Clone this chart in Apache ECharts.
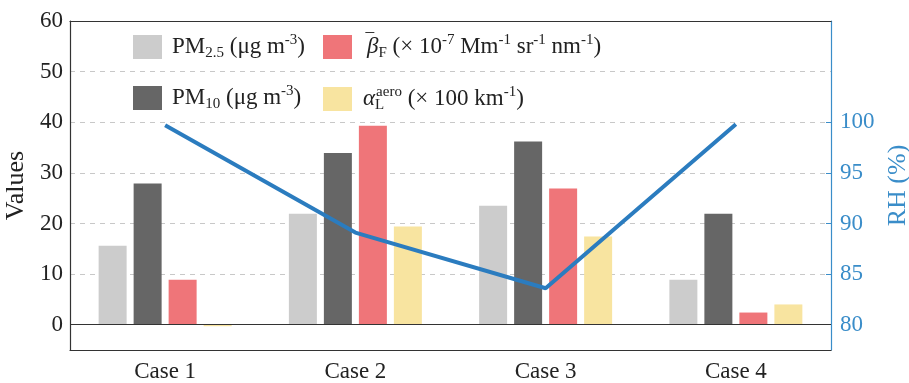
<!DOCTYPE html>
<html><head><meta charset="utf-8">
<script src="https://cdn.jsdelivr.net/npm/echarts@6/dist/echarts.min.js"></script>
<style>html,body{margin:0;padding:0;background:#fff}#c{width:909px;height:383px}</style>
</head><body><div id="c"></div>
<script>
const categories = ['Case 1', 'Case 2', 'Case 3', 'Case 4'];
const pm25 = [15.6, 21.9, 23.5, 8.9];
const pm10 = [27.9, 33.9, 36.2, 21.9];
const betaF = [8.9, 39.3, 26.9, 2.4];
const alphaL = [-0.3, 19.4, 17.4, 4.0];
const rh = [99.7, 89.1, 83.6, 99.8];
const leftTicks = [0, 10, 20, 30, 40, 50, 60];
const rightTicks = [80, 85, 90, 95, 100];

const FONT = 'Liberation Serif';
const BLUE = '#2b7cbf';
const AXBLUE = '#3a8dc9';
const DARK = '#333333';

const LH = 28;
const rich = {
  g: {width: 5},
  g2: {width: 6},
  t: {fontFamily: FONT, fontSize: 23, color: '#222', lineHeight: LH},
  sub: {fontFamily: FONT, fontSize: 15, color: '#222', verticalAlign: 'bottom', lineHeight: LH, padding: [6, 0, 0, 0]},
  sup: {fontFamily: FONT, fontSize: 15, color: '#222', verticalAlign: 'top', lineHeight: LH, padding: [0, 0, 8, 0]},
  subL: {fontFamily: FONT, fontSize: 15, color: '#222', verticalAlign: 'bottom', lineHeight: LH, padding: [6, 0, 0, 0], width: 1},
  ov: {fontFamily: FONT, fontSize: 23, color: '#222', verticalAlign: 'top', lineHeight: LH, padding: [0, 0, 6, 3], width: 1},
  it: {fontFamily: FONT, fontSize: 23, fontStyle: 'italic', color: '#222', lineHeight: LH}
};
const legendText = {
  'PM2.5': '{g|}{t|PM}{sub|2.5}{t| (μg m}{sup|-3}{t|)}',
  'PM10': '{g|}{t|PM}{sub|10}{t| (μg m}{sup|-3}{t|)}',
  'βF': '{g2|}{ov|‾}{it|β}{sub|F}{t| (× 10}{sup|-7}{t| Mm}{sup|-1}{t| sr}{sup|-1}{t| nm}{sup|-1}{t|)}',
  'αL': '{g2|}{it|α}{subL|L}{sup|aero}{t| (× 100 km}{sup|-1}{t|)}'
};

const chart = echarts.init(document.getElementById('c'));
const barCommon = {type: 'bar', barWidth: 28, barGap: '25%', xAxisIndex: 0, yAxisIndex: 0};
chart.setOption({
  animation: false,
  grid: {left: 70, right: 78, top: 21, bottom: 33, containLabel: false, outerBoundsMode: 'none'},
  legend: [
    {orient: 'vertical', left: 128, top: 28, itemWidth: 29, itemHeight: 24, itemGap: 23,
     icon: 'rect', data: ['PM2.5', 'PM10'], formatter: n => legendText[n], textStyle: {rich}},
    {orient: 'vertical', left: 318, top: 28, itemWidth: 29, itemHeight: 24, itemGap: 23,
     icon: 'rect', data: ['βF', 'αL'], formatter: n => legendText[n], textStyle: {rich}}
  ],
  xAxis: [
    {type: 'category', data: categories, position: 'bottom',
     axisLine: {onZero: false, lineStyle: {color: DARK, width: 1.2}},
     axisTick: {inside: true, alignWithLabel: true, length: 7, lineStyle: {color: DARK}},
     axisLabel: {fontFamily: FONT, fontSize: 23, color: '#222', margin: 10}},
    {type: 'category', data: categories, position: 'top',
     axisLine: {onZero: false, lineStyle: {color: DARK, width: 1.2}},
     axisTick: {inside: true, alignWithLabel: true, length: 5, lineStyle: {color: DARK}},
     axisLabel: {show: false}}
  ],
  yAxis: [
    {type: 'value', min: -5, max: 60, interval: 5, position: 'left',
     name: 'Values', nameLocation: 'middle', nameGap: 37, nameRotate: 90,
     nameTextStyle: {fontFamily: FONT, fontSize: 26, color: '#222'},
     axisLine: {show: true, lineStyle: {color: DARK, width: 1.2}},
     axisTick: {show: false},
     axisLabel: {customValues: leftTicks, fontFamily: FONT, fontSize: 23, color: '#222', margin: 7},
     splitLine: {show: true, showMinLine: true, showMaxLine: true,
       lineStyle: {type: [5, 5], color: ['rgba(0,0,0,0)', '#c8c8c8'], width: 1}}},
    {type: 'value', min: 77.5, max: 110, position: 'right', alignTicks: false,
     name: 'RH (%)', nameLocation: 'middle', nameGap: 46, nameRotate: 90,
     nameTextStyle: {fontFamily: FONT, fontSize: 26, color: AXBLUE},
     axisLine: {show: true, lineStyle: {color: AXBLUE, width: 1.2}},
     axisTick: {show: true, inside: true, length: 5, customValues: rightTicks, lineStyle: {color: AXBLUE}},
     axisLabel: {customValues: rightTicks, fontFamily: FONT, fontSize: 23, color: AXBLUE, margin: 9},
     splitLine: {show: false}}
  ],
  series: [
    Object.assign({}, barCommon, {name: 'PM2.5', data: pm25, itemStyle: {color: '#cccccc'},
      markLine: {silent: true, symbol: 'none', label: {show: false},
        lineStyle: {color: DARK, type: 'solid', width: 1.2}, data: [{yAxis: 0}]}}),
    Object.assign({}, barCommon, {name: 'PM10', data: pm10, itemStyle: {color: '#666666'}}),
    Object.assign({}, barCommon, {name: 'βF', data: betaF, itemStyle: {color: '#ef7579'}}),
    Object.assign({}, barCommon, {name: 'αL', data: alphaL, itemStyle: {color: '#f8e4a0'}}),
    {type: 'line', name: 'RH', data: rh, yAxisIndex: 1, xAxisIndex: 0, z: 5,
     showSymbol: false, symbol: 'none', lineStyle: {color: BLUE, width: 4}, itemStyle: {color: BLUE}}
  ]
});
</script></body></html>
